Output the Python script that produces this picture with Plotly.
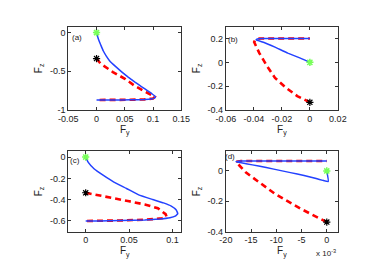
import plotly.graph_objects as go

# ---------------- data ----------------
# panel (a)
a_blue_y = [0, 0.0015, 0.0034, 0.0075, 0.0118, 0.017, 0.023, 0.034, 0.045, 0.056, 0.068, 0.08, 0.09, 0.098, 0.104, 0.103, 0.097, 0.085, 0.06, 0.03, 0]
a_blue_z = [0, -0.04, -0.085, -0.16, -0.235, -0.3, -0.363, -0.44, -0.51, -0.575, -0.64, -0.7, -0.75, -0.79, -0.825, -0.845, -0.858, -0.865, -0.868, -0.87, -0.87]
a_red_y = [0, 0.007, 0.029, 0.051, 0.068, 0.085, 0.097, 0.103, 0.1, 0.085, 0.06, 0.03, 0]
a_red_z = [-0.335, -0.40, -0.51, -0.60, -0.69, -0.756, -0.80, -0.83, -0.852, -0.863, -0.868, -0.87, -0.87]

# panel (b)
b_blue_y = [0, -0.0068, -0.0158, -0.0249, -0.0327, -0.0384, -0.0375, -0.034, -0.02, 0]
b_blue_z = [0, 0.036, 0.078, 0.128, 0.167, 0.189, 0.197, 0.2, 0.2, 0.2]
b_red_y = [0, -0.001, -0.009, -0.017, -0.0249, -0.0305, -0.0361, -0.0398, -0.039, -0.036, -0.02, 0]
b_red_z = [-0.335, -0.33, -0.283, -0.214, -0.13, -0.033, 0.078, 0.17, 0.19, 0.2, 0.2, 0.2]

# panel (c)
c_blue_y = [0, 0.003, 0.0099, 0.02, 0.032, 0.047, 0.061, 0.077, 0.0895, 0.0985, 0.104, 0.106, 0.103, 0.097, 0.085, 0.068, 0.04, 0.015, 0]
c_blue_z = [0, -0.05, -0.112, -0.17, -0.233, -0.295, -0.355, -0.398, -0.43, -0.46, -0.495, -0.53, -0.555, -0.57, -0.582, -0.59, -0.596, -0.599, -0.6]
c_red_y = [0, 0.0136, 0.032, 0.05, 0.068, 0.083, 0.092, 0.093, 0.088, 0.07, 0.04, 0]
c_red_z = [-0.335, -0.355, -0.385, -0.415, -0.445, -0.48, -0.536, -0.557, -0.575, -0.587, -0.595, -0.6]

# panel (d)  (F_y shown in units of 1e-3)
d_blue_y = [0, 0.0003, -0.0008, -0.0021, -0.0045, -0.0072, -0.0105, -0.0135, -0.016, -0.018, -0.017, 0]
d_blue_z = [0, -0.07, -0.062, -0.05, -0.03, -0.011, 0.012, 0.032, 0.048, 0.06, 0.065, 0.065]
d_red_y = [0, -0.0053, -0.0103, -0.0135, -0.016, -0.018, -0.017, 0]
d_red_z = [-0.337, -0.247, -0.15, -0.075, -0.011, 0.06, 0.065, 0.065]

# axis ticks
a_xticks = [-0.05, 0, 0.05, 0.1, 0.15]
a_xlabels = ["-0.05", "0", "0.05", "0.1", "0.15"]
a_yticks = [-1, -0.5, 0]
a_ylabels = ["-1", "-0.5", "0"]
b_xticks = [-0.06, -0.04, -0.02, 0, 0.02]
b_xlabels = ["-0.06", "-0.04", "-0.02", "0", "0.02"]
b_yticks = [-0.4, -0.2, 0, 0.2]
b_ylabels = ["-0.4", "-0.2", "0", "0.2"]
c_xticks = [0, 0.05, 0.1]
c_xlabels = ["0", "0.05", "0.1"]
c_yticks = [-0.6, -0.4, -0.2, 0]
c_ylabels = ["-0.6", "-0.4", "-0.2", "0"]
d_xticks = [-0.02, -0.015, -0.01, -0.005, 0]
d_xlabels = ["-20", "-15", "-10", "-5", "0"]
d_yticks = [-0.4, -0.2, 0]
d_ylabels = ["-0.4", "-0.2", "0"]

panels = [
    ("(a)", a_blue_y, a_blue_z, a_red_y, a_red_z, a_xticks, a_xlabels, a_yticks, a_ylabels,
     [-0.05, 0.15], [-1, 0.077]),
    ("(b)", b_blue_y, b_blue_z, b_red_y, b_red_z, b_xticks, b_xlabels, b_yticks, b_ylabels,
     [-0.06, 0.02], [-0.4, 0.3]),
    ("(c)", c_blue_y, c_blue_z, c_red_y, c_red_z, c_xticks, c_xlabels, c_yticks, c_ylabels,
     [-0.02, 0.11], [-0.7, 0.055]),
    ("(d)", d_blue_y, d_blue_z, d_red_y, d_red_z, d_xticks, d_xlabels, d_yticks, d_ylabels,
     [-0.02, 0.0022], [-0.4, 0.13]),
]

W, H = 374, 262
boxes = [(53, 172, 19, 104), (219, 337, 19, 104), (53, 172, 146, 228), (219, 337, 146, 228)]
label_pos = [(0.075, 0.87), (0.06, 0.85), (0.06, 0.89), (0.04, 0.93)]

BLUE = "rgb(35,65,255)"
RED = "rgb(255,0,0)"
GREEN = "rgb(120,255,90)"
FONT = "Liberation Sans, Arial, sans-serif"

fig = go.Figure()
layout = dict(
    width=W, height=H, margin=dict(l=0, r=0, t=0, b=0),
    paper_bgcolor="white", plot_bgcolor="white", showlegend=False,
    font=dict(family=FONT, size=9, color="#222"),
)
annotations = []
for i, (lab, by, bz, ry, rz, xt, xl, yt, yl, xr, yr) in enumerate(panels):
    n = "" if i == 0 else str(i + 1)
    xa, ya = "x" + n, "y" + n
    x0, x1, y0, y1 = boxes[i]
    fig.add_trace(go.Scatter(x=ry, y=rz, mode="lines", xaxis=xa, yaxis=ya,
                             line=dict(color=RED, width=2.6, dash="6px,4px")))
    fig.add_trace(go.Scatter(x=by, y=bz, mode="lines", xaxis=xa, yaxis=ya,
                             line=dict(color=BLUE, width=1.5, shape="spline", smoothing=0.3)))
    fig.add_trace(go.Scatter(x=[by[0]], y=[bz[0]], mode="markers", xaxis=xa, yaxis=ya,
                             marker=dict(symbol="asterisk-open", size=6, color=GREEN,
                                         line=dict(color=GREEN, width=1.5))))
    fig.add_trace(go.Scatter(x=[ry[0]], y=[rz[0]], mode="markers", xaxis=xa, yaxis=ya,
                             marker=dict(symbol="asterisk-open", size=6, color="black",
                                         line=dict(color="black", width=1.2))))
    common = dict(showgrid=False, zeroline=False, showline=True, linecolor="#333", linewidth=1,
                  mirror="allticks", ticks="inside", ticklen=3, tickcolor="#333",
                  tickfont=dict(family=FONT, size=9, color="#222"))
    layout["xaxis" + n] = dict(common, domain=[x0 / W, x1 / W], range=xr, tickvals=xt, ticktext=xl,
                               anchor=ya,
                               title=dict(text="F<sub>y</sub>", standoff=0, font=dict(size=10)))
    layout["yaxis" + n] = dict(common, domain=[1 - y1 / H, 1 - y0 / H], range=yr, tickvals=yt, ticktext=yl,
                               anchor=xa,
                               title=dict(text="F<sub>z</sub>", standoff=5, font=dict(size=10)))
    annotations.append(dict(text=lab, xref=xa + " domain", yref=ya + " domain",
                            x=label_pos[i][0], y=label_pos[i][1], xanchor="center", yanchor="middle",
                            showarrow=False, font=dict(family=FONT, size=8, color="#222")))

annotations.append(dict(text="x 10<sup>-3</sup>", xref="paper", yref="paper",
                        x=337 / W, y=1 - 250 / H, xanchor="right", yanchor="middle",
                        showarrow=False, font=dict(family=FONT, size=8, color="#222")))
layout["annotations"] = annotations
fig.update_layout(**layout)
fig.write_html("out.html")
